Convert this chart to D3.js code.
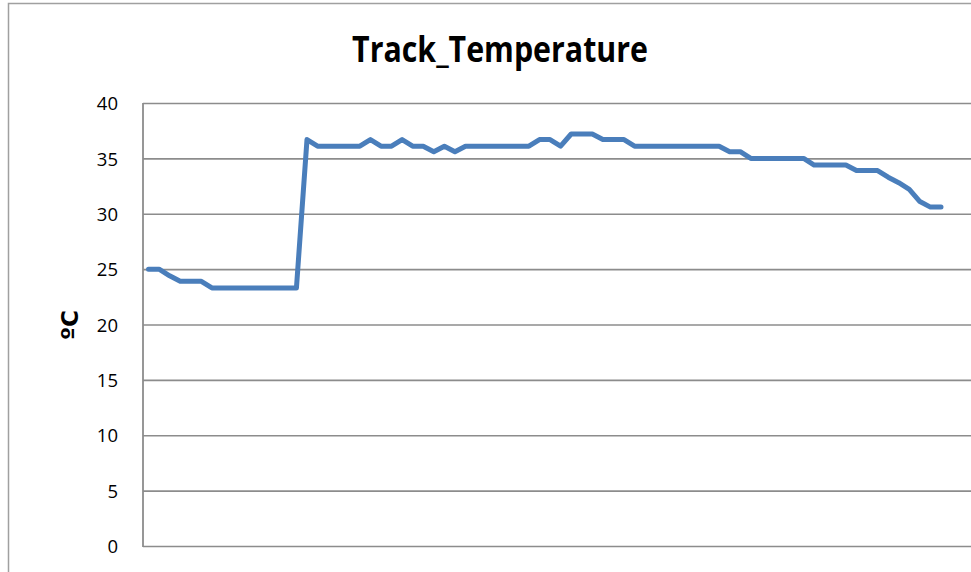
<!DOCTYPE html>
<html>
<head>
<meta charset="utf-8">
<script src="https://cdn.jsdelivr.net/npm/d3@7/dist/d3.min.js"></script>
<style>
  html, body { margin: 0; padding: 0; background: #ffffff; overflow: hidden; }
  svg { display: block; }
</style>
</head>
<body>
<svg id="chart" width="971" height="572"></svg>
<script>
// ---- data ----
const title = "Track_Temperature";
const yLabel = "ºC";
const yTicks = [0, 5, 10, 15, 20, 25, 30, 35, 40];
const categories = [
  1, 2, 3, 4, 5, 6, 7, 8, 9, 10, 11, 12, 13, 14, 15, 16, 17, 18, 19, 20,
  21, 22, 23, 24, 25, 26, 27, 28, 29, 30, 31, 32, 33, 34, 35, 36, 37, 38, 39, 40,
  41, 42, 43, 44, 45, 46, 47, 48, 49, 50, 51, 52, 53, 54, 55, 56, 57, 58, 59, 60,
  61, 62, 63, 64, 65, 66, 67, 68, 69, 70, 71, 72, 73, 74, 75, 76
];
const trackTemp = [
  25.0, 25.0, 24.4, 23.9, 23.9, 23.9, 23.3, 23.3, 23.3, 23.3,
  23.3, 23.3, 23.3, 23.3, 23.3, 36.7, 36.1, 36.1, 36.1, 36.1,
  36.1, 36.7, 36.1, 36.1, 36.7, 36.1, 36.1, 35.6, 36.1, 35.6,
  36.1, 36.1, 36.1, 36.1, 36.1, 36.1, 36.1, 36.7, 36.7, 36.1,
  37.2, 37.2, 37.2, 36.7, 36.7, 36.7, 36.1, 36.1, 36.1, 36.1,
  36.1, 36.1, 36.1, 36.1, 36.1, 35.6, 35.6, 35.0, 35.0, 35.0,
  35.0, 35.0, 35.0, 34.4, 34.4, 34.4, 34.4, 33.9, 33.9, 33.9,
  33.3, 32.8, 32.2, 31.1, 30.6, 30.6
];

// ---- layout ----
const svg = d3.select("#chart");
const plotLeft = 143, plotTop = 103, plotBottom = 546, plotRight = 975;
const firstX = 148.5, lastX = 941;

// outer chart frame (cut off at right/bottom)
svg.append("rect")
  .attr("x", 8.5).attr("y", 3.5)
  .attr("width", 1000).attr("height", 700)
  .attr("fill", "#ffffff")
  .attr("stroke", "#a0a0a0").attr("stroke-width", 1.5);

const y = d3.scaleLinear().domain([0, 40]).range([plotBottom, plotTop]);
const x = d3.scalePoint().domain(categories).range([firstX, lastX]);

// gridlines
const yAxis = d3.axisLeft(y).tickValues(yTicks)
  .tickSize(-(plotRight - plotLeft)).tickPadding(25)
  .tickFormat(d3.format("d"));
const gy = svg.append("g")
  .attr("transform", `translate(${plotLeft},0)`)
  .call(yAxis);
gy.select(".domain").remove();
gy.selectAll(".tick line")
  .attr("stroke", "#8c8c8c").attr("stroke-width", 1.6);
gy.selectAll(".tick text")
  .attr("fill", "#000000")
  .attr("font-family", "'Open Sans', 'Noto Sans', sans-serif")
  .attr("font-size", 18.5)
  .attr("dy", "0.36em");

// vertical axis line
svg.append("line")
  .attr("x1", plotLeft).attr("x2", plotLeft)
  .attr("y1", plotTop).attr("y2", plotBottom + 1)
  .attr("stroke", "#8c8c8c").attr("stroke-width", 1.8);

// series line
const line = d3.line()
  .x((d, i) => x(categories[i]))
  .y(d => y(d));
svg.append("path")
  .datum(trackTemp)
  .attr("d", line)
  .attr("fill", "none")
  .attr("stroke", "#4a7ebb")
  .attr("stroke-width", 5)
  .attr("stroke-linejoin", "round")
  .attr("stroke-linecap", "round");

// title (condensed to match width)
const t = svg.append("text")
  .text(title)
  .attr("font-family", "'Open Sans', 'Noto Sans', sans-serif")
  .attr("font-weight", "bold")
  .attr("font-size", 36)
  .attr("text-anchor", "middle")
  .attr("fill", "#000000");
const tw = t.node().getComputedTextLength();
const sx = 296 / tw;
t.attr("transform", `translate(500,62) scale(${sx},1)`);

// y axis label
svg.append("text")
  .text(yLabel)
  .attr("font-family", "'DejaVu Sans', 'Open Sans', sans-serif")
  .attr("font-weight", "bold")
  .attr("font-size", 23)
  .attr("text-anchor", "middle")
  .attr("fill", "#000000")
  .attr("transform", "translate(78,325) rotate(-90)");
</script>
</body>
</html>
